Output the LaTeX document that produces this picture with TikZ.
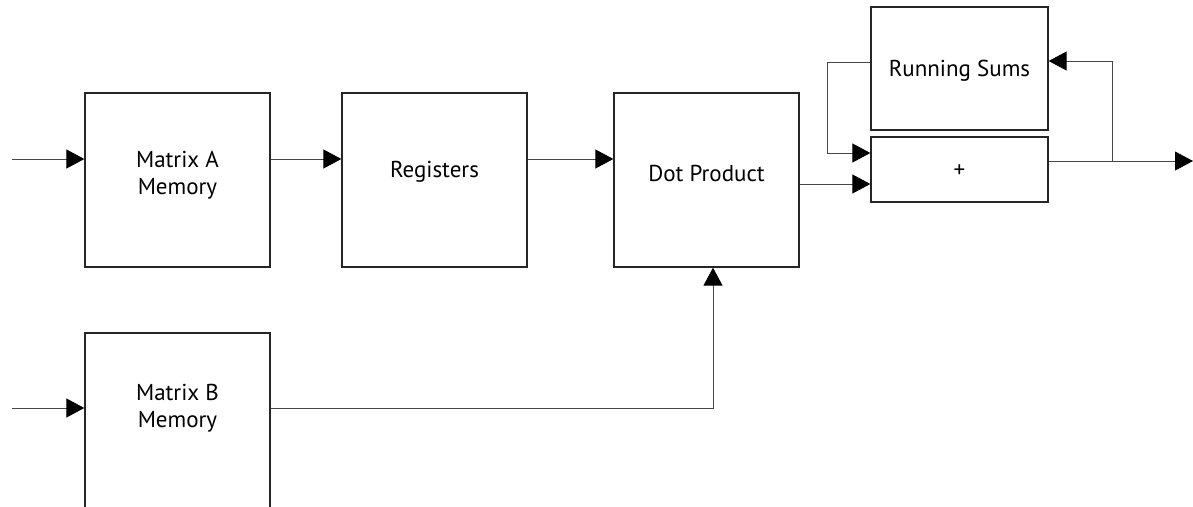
\documentclass[tikz,border=0pt]{standalone}
\usepackage{fontspec}
\setmainfont{PT Sans}
\usetikzlibrary{arrows.meta,calc}
\begin{document}
\begin{tikzpicture}[x=1pt,y=-1pt,
  blk/.style={draw=black!85,line width=1.3pt,rectangle,inner sep=0pt,
    minimum width=185pt,minimum height=174pt},
  lbl/.style={font=\fontsize{23}{27}\selectfont,align=center,text=black},
  wire/.style={draw=black!72,line width=0.9pt},
  arr/.style={wire,-{Triangle[length=18pt,width=19pt,color=black]}}]
\useasboundingbox (0,0) rectangle (1193,506);

% processing blocks
\node[blk,label={[lbl,yshift=5pt]center:Matrix A\\Memory}] (ma) at (177.5,180) {};
\node[blk,label={[lbl,yshift=8pt]center:Registers}] (reg) at (434.5,180) {};
\node[blk,label={[lbl,yshift=7pt]center:Dot Product}] (dot) at (706.5,180) {};
% lower memory block runs past the bottom edge
\node[blk,minimum height=190pt,label={[lbl,yshift=19.5pt]center:Matrix B\\Memory}] (mb) at (177.5,428) {};
\node[blk,minimum width=177pt,minimum height=123pt,
  label={[lbl,yshift=-2pt]center:Running Sums}] (rs) at (959.5,68.5) {};
\node[blk,minimum width=177pt,minimum height=65pt,
  label={[lbl,yshift=-2pt]center:+}] (plus) at (959.5,169.5) {};

% free ends
\coordinate (inA) at (12,159);
\coordinate (inB) at (12,408);
\coordinate (out) at (1193,161);
\coordinate (tap) at (1112,161);

% data path
\draw[arr] (inA) -- (inA -| ma.west);
\draw[arr] ([yshift=21pt]ma.east) -- ([yshift=21pt]reg.west);
\draw[arr] ([yshift=21pt]reg.east) -- ([yshift=21pt]dot.west);
\draw[arr] ([yshift=-4pt]dot.east) -- ([yshift=-4pt]dot.east -| plus.west);
\draw[arr] (inB) -- (inB -| mb.west);
\draw[arr] ([yshift=20pt]mb.east) -| ([xshift=6.5pt]dot.south);

% accumulator loop
\draw[arr] ([yshift=6.5pt]rs.west) -- ++(-43,0) |- ([yshift=16.5pt]plus.west);
\draw[arr] ([yshift=8.5pt]plus.east) -- (out);
\draw[arr] (tap) |- ([yshift=7.5pt]rs.east);
\end{tikzpicture}
\end{document}
